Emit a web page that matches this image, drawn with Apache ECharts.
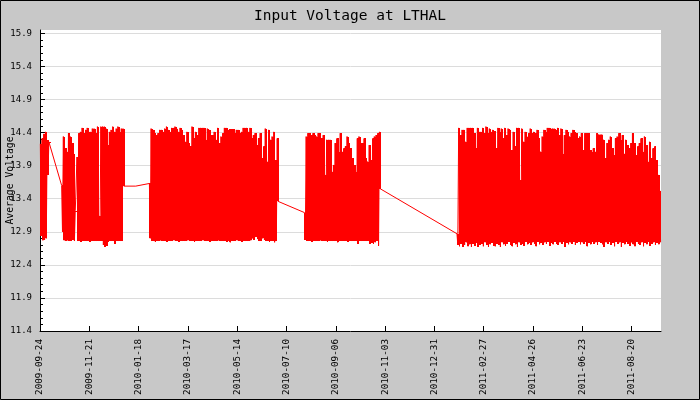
<!DOCTYPE html>
<html><head><meta charset="utf-8">
<script src="https://cdn.jsdelivr.net/npm/echarts@6/dist/echarts.min.js"></script>
<style>html,body{margin:0;padding:0;background:#c8c8c8}#c{width:700px;height:400px}</style>
</head><body><div id="c"></div>
<script>
const TITLE = 'Input Voltage at LTHAL';
const Y_NAME = 'Average Voltage';
const yTickLabels = ['11.4','11.9','12.4','12.9','13.4','13.9','14.4','14.9','15.4','15.9'];
const xTickLabels = ['2009-09-24','2009-11-21','2010-01-18','2010-03-17','2010-05-14','2010-07-10',
  '2010-09-06','2010-11-03','2010-12-31','2011-02-27','2011-04-26','2011-06-23','2011-08-20'];

// Readings: one high/low pair every 2 days, starting at each segment's start date
const segAStart = '2009-09-25';
const segAHigh = [14.23,14.31,14.38,14.41,14.28,14.26];
const segALow  = [12.84,12.77,12.78,12.80,13.76,14.24];

const segBStart = '2009-10-20';
const segBHigh = [13.60,14.34,14.16,14.11,14.39,14.34,14.24,14.08,13.22,14.03,14.39,14.41,14.47,14.39,14.44,14.47,14.41,14.41,14.46,14.46,
  14.39,14.49,13.14,14.49,14.49,14.49,14.46,14.21,14.41,14.44,14.49,14.41,14.46,14.49,14.41,14.46,14.46];
const segBLow  = [12.90,12.77,12.76,12.77,12.76,12.76,12.78,12.76,13.20,12.76,12.76,12.75,12.76,12.76,12.76,12.76,12.75,12.76,12.76,12.76,
  12.76,12.76,12.76,12.76,12.70,12.67,12.69,12.75,12.76,12.76,12.76,12.72,12.76,12.76,12.76,12.76,13.59];

const gapBCDates = ['2010-01-15','2010-01-16'];
const gapBCValues = [13.59,13.57];

const segCStart = '2010-01-31';
const segCHigh = [13.63,14.46,14.44,14.39,14.36,14.39,14.44,14.44,14.41,14.46,14.49,14.44,14.41,14.47,14.47,14.49,14.46,14.41,14.47,14.44,
  14.36,14.26,14.41,14.24,14.19,14.49,14.31,14.41,14.36,14.47,14.47,14.47,14.47,14.29,14.46,14.44,14.36,14.36,14.41,14.29,
  14.47,14.24,14.34,14.39,14.47,14.47,14.44,14.45,14.45,14.45,14.39,14.44,14.44,14.39,14.41,14.47,14.47,14.47,14.41,14.47,
  14.31,14.36,14.39,14.21,14.31,14.39,14.01,14.19,14.46,13.96,14.44,14.29,14.34,14.41,13.98,14.31];
const segCLow  = [12.80,12.76,12.76,12.75,12.76,12.76,12.77,12.76,12.76,12.76,12.75,12.76,12.76,12.76,12.77,12.76,12.76,12.75,12.76,12.76,
  12.76,12.76,12.77,12.76,12.76,12.76,12.75,12.76,12.76,12.76,12.76,12.77,12.76,12.76,12.76,12.75,12.76,12.76,12.76,12.76,
  12.77,12.76,12.76,12.76,12.76,12.75,12.76,12.74,12.76,12.76,12.76,12.77,12.76,12.76,12.75,12.76,12.76,12.76,12.76,12.77,
  12.80,12.78,12.82,12.79,12.76,12.76,12.80,12.78,12.76,12.76,12.75,12.76,12.76,12.74,12.76,13.36];

const segDStart = '2010-08-01';
const segDHigh = [13.19,14.34,14.39,14.39,14.36,14.39,14.36,14.34,14.39,14.39,14.31,14.36,13.76,14.29,14.29,14.29,13.81,13.91,14.24,14.31,
  14.11,14.39,14.11,14.16,14.19,14.34,14.24,14.16,14.01,13.91,13.81,14.31,14.34,14.24,14.24,14.31,14.01,13.96,14.21,13.98,
  14.31,14.34,14.36,14.39,14.41];
const segDLow  = [12.78,12.76,12.76,12.76,12.75,12.76,12.76,12.76,12.76,12.77,12.76,12.76,12.76,12.75,12.76,12.76,12.76,12.76,12.76,12.74,
  12.76,12.76,12.76,12.76,12.76,12.75,12.76,12.76,12.76,12.76,12.76,12.72,12.76,12.76,12.76,12.76,12.76,12.76,12.72,12.73,
  12.72,12.74,12.76,12.69,13.55];

const segEStart = '2011-01-27';
const segEHigh = [12.87,14.47,14.36,14.44,14.44,14.26,14.47,14.47,14.47,14.47,14.39,14.16,14.47,14.41,14.41,14.47,14.39,14.49,14.39,14.46,
  14.41,14.44,14.42,14.16,14.47,14.41,14.46,14.31,14.47,14.36,14.46,14.44,14.13,14.41,14.19,14.47,14.47,13.68,14.46,14.26,
  14.41,14.34,14.39,14.46,14.39,14.41,14.39,14.44,14.31,14.11,14.34,14.44,14.41,14.47,14.47,14.46,14.46,14.46,14.44,14.47,
  14.36,14.46,14.08,14.36,14.44,14.41,14.34,14.39,14.44,14.41,14.39,14.31,14.34,14.39,14.13,14.39,14.39,14.39,14.13,14.11,
  14.16,14.11,14.39,14.37,14.37,14.37,14.29,14.01,14.24,14.29,14.34,14.16,14.06,14.31,14.34,14.39,14.29,14.36,14.08,14.29,
  14.21,14.16,14.24,14.39,14.24,14.06,14.19,14.24,14.31,14.11,14.34,14.21,13.96,14.26,14.01,14.16,14.19,13.98,13.76,13.52];
const segELow  = [12.70,12.68,12.72,12.67,12.70,12.74,12.68,12.71,12.67,12.72,12.69,12.73,12.67,12.70,12.72,12.68,12.74,12.70,12.67,12.71,
  12.73,12.69,12.68,12.72,12.70,12.67,12.74,12.71,12.69,12.72,12.75,12.70,12.68,12.73,12.71,12.67,12.74,12.70,12.72,12.69,
  12.75,12.71,12.73,12.70,12.74,12.72,12.68,12.75,12.71,12.73,12.70,12.74,12.72,12.75,12.69,12.73,12.71,12.75,12.72,12.70,
  12.74,12.72,12.75,12.67,12.73,12.71,12.74,12.72,12.75,12.70,12.73,12.75,12.71,12.74,12.72,12.75,12.68,12.73,12.71,12.75,
  12.72,12.74,12.70,12.75,12.73,12.71,12.67,12.74,12.72,12.75,12.70,12.73,12.68,12.75,12.72,12.74,12.67,12.73,12.71,12.75,
  12.72,12.69,12.74,12.71,12.68,12.75,12.72,12.70,12.74,12.68,12.73,12.71,12.75,12.69,12.72,12.74,12.70,12.73,12.71,12.74];

const SAMPLE_DAYS = 2;
const ORIGIN = Date.UTC(2009, 8, 24);
const DAY = 86400000;
const TICK_DAYS = 5000000 / 86400;   // axis tick step (5,000,000 s)
const X_MIN = 0.6, X_MAX = 729.5;
const Y_MIN = 11.4, Y_MAX = 15.95;

function dayOf(s) { const p = s.split('-').map(Number); return (Date.UTC(p[0], p[1] - 1, p[2]) - ORIGIN) / DAY; }

const lineData = [];   // the trace, in time order
const rangeData = [];  // [day, high, low] per reading
function addSeg(start, highs, lows) {
  const d0 = dayOf(start);
  highs.forEach((h, i) => {
    const d = d0 + i * SAMPLE_DAYS;
    lineData.push([d, h]);
    lineData.push([d + SAMPLE_DAYS / 2, lows[i]]);
    rangeData.push([d, h, lows[i]]);
  });
}
addSeg(segAStart, segAHigh, segALow);
addSeg(segBStart, segBHigh, segBLow);
gapBCDates.forEach((d, i) => lineData.push([dayOf(d), gapBCValues[i]]));
addSeg(segCStart, segCHigh, segCLow);
addSeg(segDStart, segDHigh, segDLow);
addSeg(segEStart, segEHigh, segELow);

const yTicks = yTickLabels.map(Number);
const yMinor = [];
for (let i = 0; i < yTicks.length - 1; i++) for (let k = 1; k < 5; k++) yMinor.push(+(yTicks[i] + k * 0.1).toFixed(2));
const xTickValues = xTickLabels.map((_, k) => X_MIN + k * TICK_DAYS);

const MONO = 'DejaVu Sans Mono';
const RED = '#ff0000';
const chart = echarts.init(document.getElementById('c'), null, { renderer: 'canvas' });
chart.setOption({
  backgroundColor: '#c8c8c8',
  animation: false,
  title: { text: TITLE, left: 'center', top: 4, textStyle: { fontFamily: MONO, fontSize: 14.5, fontWeight: 'normal', color: '#000' } },
  grid: { left: 40, top: 30, width: 621, height: 301, containLabel: false, outerBoundsMode: 'none',
    show: true, backgroundColor: '#ffffff', borderWidth: 0 },
  xAxis: {
    type: 'value', min: X_MIN, max: X_MAX,
    axisLine: { onZero: false, lineStyle: { color: '#000', width: 1 } },
    axisTick: { inside: true, length: 5, customValues: xTickValues, lineStyle: { color: '#000' } },
    axisLabel: { customValues: xTickValues, rotate: 90, margin: 8, fontFamily: MONO, fontSize: 9.3, color: '#000',
      formatter: v => { let b = 0; xTickValues.forEach((t, k) => { if (Math.abs(t - v) < Math.abs(xTickValues[b] - v)) b = k; }); return xTickLabels[b]; } },
    splitLine: { show: false }
  },
  yAxis: [{
    type: 'value', min: Y_MIN, max: Y_MAX, position: 'left',
    name: Y_NAME, nameLocation: 'middle', nameRotate: 90, nameGap: 25, nameMoveOverlap: false,
    nameTextStyle: { fontFamily: MONO, fontSize: 9.75, color: '#000' },
    axisLine: { show: true, onZero: false, lineStyle: { color: '#000', width: 1 } },
    axisTick: { inside: true, length: 5, customValues: yTicks, lineStyle: { color: '#000' } },
    axisLabel: { customValues: yTicks, margin: 8, fontFamily: MONO, fontSize: 9, color: '#000', formatter: v => v.toFixed(1) },
    splitLine: { show: true, lineStyle: { color: '#dcdcdc', width: 1 } }
  }, {
    type: 'value', min: Y_MIN, max: Y_MAX, position: 'left', offset: 0,
    axisLine: { show: false },
    axisTick: { inside: true, length: 3, customValues: yMinor, lineStyle: { color: '#000' } },
    axisLabel: { show: false },
    splitLine: { show: false }
  }],
  graphic: [{ type: 'rect', shape: { x: 0.5, y: 0.5, width: 699, height: 399 }, style: { fill: null, stroke: '#000', lineWidth: 1 }, z: 100, silent: true }],
  series: [{
    type: 'custom', data: rangeData, xAxisIndex: 0, yAxisIndex: 0, silent: true,
    encode: { x: 0, y: [1, 2] },
    renderItem: (params, api) => {
      const a = api.coord([api.value(0), api.value(1)]);
      const b = api.coord([api.value(0) + SAMPLE_DAYS, api.value(2)]);
      const x0 = Math.round(a[0]), x1 = Math.max(Math.round(b[0]), x0 + 1);
      const y0 = Math.round(a[1]), y1 = Math.round(b[1]);
      return { type: 'rect', shape: { x: x0, y: y0, width: x1 - x0, height: y1 - y0 },
        style: { fill: RED, stroke: null } };
    }
  }, {
    type: 'line', data: lineData, xAxisIndex: 0, yAxisIndex: 0,
    showSymbol: false, symbol: 'none', silent: true,
    lineStyle: { color: RED, width: 1 }, itemStyle: { color: RED },
    emphasis: { disabled: true }
  }]
});
</script>
</body></html>
